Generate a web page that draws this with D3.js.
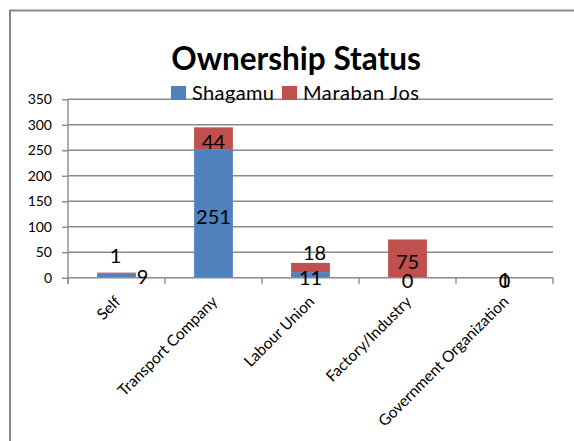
<!DOCTYPE html>
<html>
<head>
<meta charset="utf-8">
<script src="https://cdn.jsdelivr.net/npm/d3@7"></script>
<style>
  body { margin: 0; background: #fff; }
  svg { display: block; font-family: Lato, "Open Sans", sans-serif; }
</style>
</head>
<body>
<div id="chart"></div>
<script>
// ---------------------------------------------------
// DATA
// ---------------------------------------------------
const categories = ["Self", "Transport Company", "Labour Union", "Factory/Industry", "Government Organization"];
const seriesNames = ["Shagamu", "Maraban Jos"];
const shagamu = [9, 251, 11, 0, 0];
const marabanJos = [1, 44, 18, 75, 1];
const yTicks = [0, 50, 100, 150, 200, 250, 300, 350];

// label nudges (px) where the original labels were dragged away from the bar centre
const labelNudge = {
  "Self": { "Shagamu": [26, -1], "Maraban Jos": [-1, -20] },
  "Labour Union": { "Maraban Jos": [4, -18] }
};

// ---------------------------------------------------
// DIMENSIONS
// ---------------------------------------------------
const width = 574;
const height = 441;
const plot = { left: 68, right: 553, top: 99.3, bottom: 277.7 };

const svg = d3.select("#chart")
  .append("svg")
  .attr("width", width)
  .attr("height", height);

// chart frame (runs off the right and bottom of the picture)
svg.append("rect")
  .attr("x", 10)
  .attr("y", 10.5)
  .attr("width", 620)
  .attr("height", 500)
  .attr("fill", "none")
  .attr("stroke", "#8a8a8a")
  .attr("stroke-width", 2);

// ---------------------------------------------------
// SCALES
// ---------------------------------------------------
const x = d3.scaleBand()
  .domain(categories)
  .range([plot.left, plot.right])
  .paddingInner(0.6)
  .paddingOuter(0.3);

const xEdge = d3.scaleLinear()
  .domain([0, categories.length])
  .range([plot.left, plot.right]);

const y = d3.scaleLinear()
  .domain([0, 350])
  .range([plot.bottom, plot.top]);

const color = d3.scaleOrdinal()
  .domain(seriesNames)
  .range(["#4f81bd", "#c0504d"]);

// ---------------------------------------------------
// GRIDLINES
// ---------------------------------------------------
svg.append("g")
  .selectAll("line")
  .data(yTicks.filter(d => d > 0))
  .join("line")
  .attr("x1", plot.left)
  .attr("x2", plot.right)
  .attr("y1", d => y(d))
  .attr("y2", d => y(d))
  .attr("stroke", "#8a8a8a")
  .attr("stroke-width", 1.4);

// ---------------------------------------------------
// STACKED BARS
// ---------------------------------------------------
const table = categories.map((c, i) => ({ cat: c, "Shagamu": shagamu[i], "Maraban Jos": marabanJos[i] }));
const stacked = d3.stack().keys(seriesNames)(table);

svg.append("g")
  .selectAll("g")
  .data(stacked)
  .join("g")
  .attr("fill", d => color(d.key))
  .selectAll("rect")
  .data(d => d)
  .join("rect")
  .attr("x", d => x(d.data.cat))
  .attr("width", x.bandwidth())
  .attr("y", d => y(d[1]))
  .attr("height", d => y(d[0]) - y(d[1]));

// ---------------------------------------------------
// AXES
// ---------------------------------------------------
const yAxis = svg.append("g")
  .attr("transform", `translate(${plot.left},0)`)
  .call(d3.axisLeft(y).tickValues(yTicks).tickSize(6).tickPadding(10).tickSizeOuter(0));
yAxis.select(".domain").attr("stroke", "#8a8a8a").attr("stroke-width", 1.4)
  .attr("d", `M0,${plot.top}V${plot.bottom + 6}`);
yAxis.selectAll(".tick line").attr("stroke", "#8a8a8a").attr("stroke-width", 1.4);
yAxis.selectAll(".tick text")
  .attr("font-family", "Lato, sans-serif")
  .attr("font-size", 14)
  .attr("fill", "#000");

const xAxis = svg.append("g");
xAxis.append("line")
  .attr("x1", plot.left)
  .attr("x2", plot.right)
  .attr("y1", y(0))
  .attr("y2", y(0))
  .attr("stroke", "#8a8a8a")
  .attr("stroke-width", 1.4);
xAxis.selectAll(".xtick")
  .data(d3.range(categories.length + 1))
  .join("line")
  .attr("class", "xtick")
  .attr("x1", d => xEdge(d))
  .attr("x2", d => xEdge(d))
  .attr("y1", y(0))
  .attr("y2", y(0) + 6)
  .attr("stroke", "#8a8a8a")
  .attr("stroke-width", 1.4);

xAxis.selectAll(".xlabel")
  .data(categories)
  .join("text")
  .attr("class", "xlabel")
  .attr("transform", d => `translate(${x(d) + x.bandwidth() / 2 + 5},${y(0) + 25}) rotate(-45)`)
  .attr("text-anchor", "end")
  .attr("font-size", 15.5)
  .attr("fill", "#000")
  .text(d => d);

// ---------------------------------------------------
// DATA LABELS
// ---------------------------------------------------
const labels = stacked.flatMap(s => s.map(d => ({ key: s.key, cat: d.data.cat, v: d.data[s.key], y0: d[0], y1: d[1] })));

svg.append("g")
  .selectAll("text")
  .data(labels)
  .join("text")
  .attr("x", d => x(d.cat) + x.bandwidth() / 2 + ((labelNudge[d.cat] || {})[d.key] || [0, 0])[0])
  .attr("y", d => (y(d.y0) + y(d.y1)) / 2 + 10 + ((labelNudge[d.cat] || {})[d.key] || [0, 0])[1])
  .attr("text-anchor", "middle")
  .attr("font-size", 20)
  .attr("fill", "#000")
  .text(d => d.v);

// ---------------------------------------------------
// TITLE + LEGEND
// ---------------------------------------------------
svg.append("text")
  .attr("x", 296)
  .attr("y", 69.5)
  .attr("text-anchor", "middle")
  .attr("font-size", 31.5)
  .attr("font-weight", "bold")
  .attr("fill", "#000")
  .text("Ownership Status");

const legend = svg.append("g");
const legendX = [171, 282];
const legendW = [82, 116];
const legendItem = legend.selectAll("g")
  .data(seriesNames)
  .join("g")
  .attr("transform", (d, i) => `translate(${legendX[i]},86)`);
legendItem.append("rect")
  .attr("width", 15)
  .attr("height", 14)
  .attr("fill", d => color(d));
legendItem.append("text")
  .attr("x", 21)
  .attr("y", 14)
  .attr("font-size", 20)
  .attr("textLength", (d, i) => legendW[i])
  .attr("lengthAdjust", "spacing")
  .attr("fill", "#000")
  .text(d => d);
</script>
</body>
</html>
